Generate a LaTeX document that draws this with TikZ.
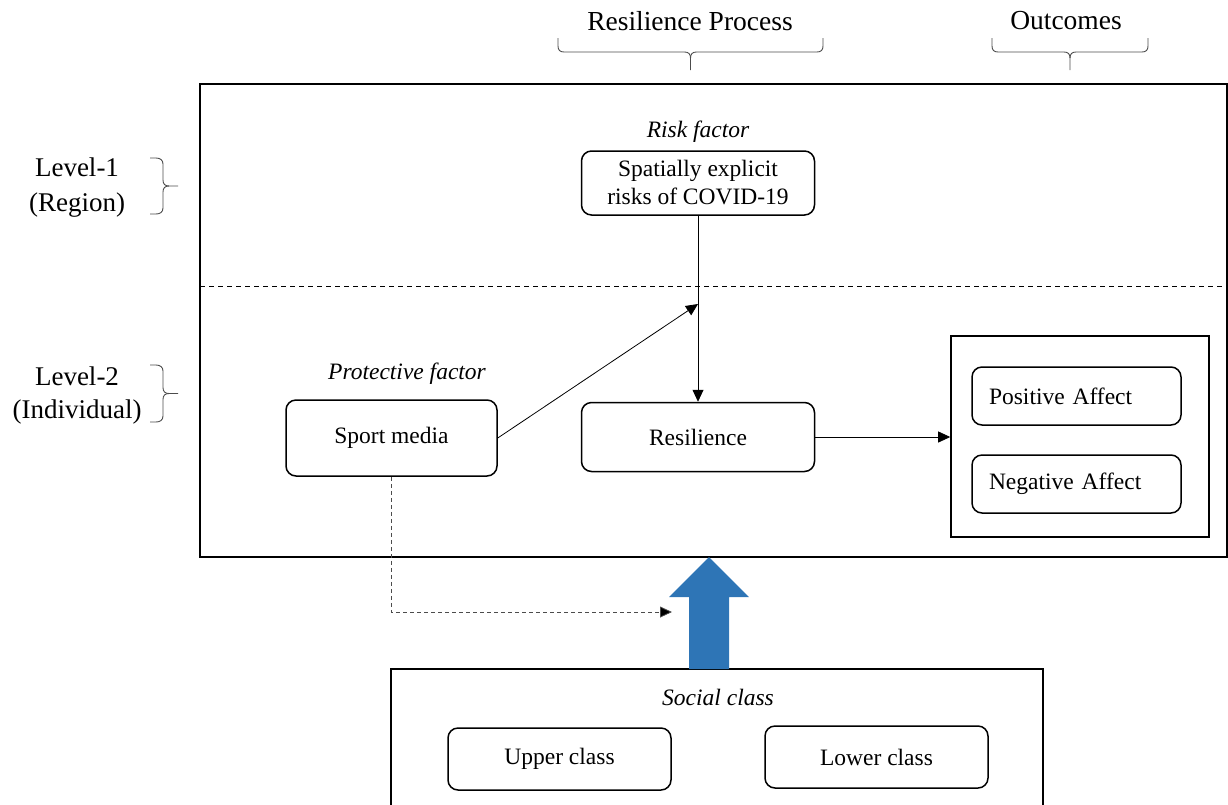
\documentclass[tikz,border=0pt]{standalone}
\usepackage{fontspec}
\setmainfont{Liberation Serif}
\usetikzlibrary{positioning,arrows.meta}
\definecolor{arrowblue}{RGB}{46,117,182}

% brace opening downwards: left x, right x, y of the ends
\newcommand{\topbrace}[3]{%
	\draw[curly] (#1,#3) -- (#1,#3+8) .. controls (#1,#3+12) and (#1+2,#3+14) .. (#1+6,#3+14)
		-- ({(#1+#2)/2-6},#3+14) .. controls ({(#1+#2)/2-2},#3+14) and ({(#1+#2)/2},#3+16) .. ({(#1+#2)/2},#3+20)
		-- ({(#1+#2)/2},#3+32);
	\draw[curly] (#2,#3) -- (#2,#3+8) .. controls (#2,#3+12) and (#2-2,#3+14) .. (#2-6,#3+14)
		-- ({(#1+#2)/2+6},#3+14) .. controls ({(#1+#2)/2+2},#3+14) and ({(#1+#2)/2},#3+16) .. ({(#1+#2)/2},#3+20);}
% brace opening to the right: x of the ends, top y, bottom y
\newcommand{\sidebrace}[3]{%
	\draw[curly] (#1,#2) -- (#1+6,#2) .. controls (#1+10,#2) and (#1+13,#2+2) .. (#1+13,#2+6)
		-- (#1+13,{(#2+#3)/2-6}) .. controls (#1+13,{(#2+#3)/2-2}) and (#1+15,{(#2+#3)/2}) .. (#1+19,{(#2+#3)/2})
		-- (#1+28,{(#2+#3)/2});
	\draw[curly] (#1,#3) -- (#1+6,#3) .. controls (#1+10,#3) and (#1+13,#3-2) .. (#1+13,#3-6)
		-- (#1+13,{(#2+#3)/2+6}) .. controls (#1+13,{(#2+#3)/2+2}) and (#1+15,{(#2+#3)/2}) .. (#1+19,{(#2+#3)/2});}

\begin{document}
\begin{tikzpicture}[x=1pt, y=-1pt,
			roundbox/.style={draw=black, rounded corners=10pt, line width=1.5pt, align=center, font=\fontsize{23.5}{28}\selectfont},
			framebox/.style={draw=black, line width=1.6pt},
			tag/.style={font=\fontsize{23.5}{28}\selectfont\itshape},
			head/.style={font=\fontsize{27.5}{32}\selectfont},
			lvl/.style={align=center},
			arr/.style={-{Triangle[length=12pt,width=11pt]}, line width=0.8pt},
			curly/.style={draw=black!70, line width=0.9pt},
		]
			\useasboundingbox (0,0) rectangle (1228,804);

			%Frames
			\draw[framebox] (200,84) rectangle (1227,557);
			\draw[dash pattern=on 5pt off 4pt, line width=0.8pt] (200,286) -- (1227,286);
			\node[framebox, minimum width=258pt, minimum height=201pt] (outcomes) at (1080,436.5) {};
			\node[framebox, minimum width=652pt, minimum height=142pt] (social) at (717,740) {};

			%Nodes
			\node[roundbox, minimum width=233pt, minimum height=64pt] (risk) at (698,183) {Spatially explicit\\risks of COVID-19};
			\node[roundbox, minimum width=233pt, minimum height=69pt] (resil) at (698,437) {Resilience};
			\node[roundbox, minimum width=211pt, minimum height=76pt] (sport) at (391.5,438) {Sport media};
			\node[roundbox, minimum width=209pt, minimum height=58pt, text width=175pt, inner xsep=17pt, align=left] (pos) at (1076.5,396) {Positive Affect};
			\node[roundbox, minimum width=209pt, minimum height=58pt, text width=175pt, inner xsep=17pt, align=left] (neg) at (1076.5,484) {Negative Affect};
			\node[roundbox, minimum width=223pt, minimum height=62pt] (upper) at (559.5,759) {Upper class};
			\node[roundbox, minimum width=223pt, minimum height=62pt] (lower) at (876.5,757) {Lower class};

			%Labels
			\node[tag] (risktag) at (698,132) {Risk factor};
			\node[tag] (prottag) at (407,374) {Protective factor};
			\node[tag] (socialtag) at (718,697) {Social class};
			\node[head] (process) at (690,21) {Resilience Process};
			\node[head] (outhead) at (1066,21) {Outcomes};
			\node[lvl, font=\fontsize{27}{35}\selectfont] (lvlone) at (77,188) {Level-1\\(Region)};
			\node[lvl, font=\fontsize{27}{33}\selectfont] (lvltwo) at (77,395) {Level-2\\(Individual)};

			%Braces
			\topbrace{558}{823}{38}
			\topbrace{992}{1148}{38}
			\sidebrace{150}{158}{214}
			\sidebrace{150}{365}{422}

			%Lines
			\coordinate (meet) at (698,304);
			\coordinate (dashend) at (672,612);
			\draw[arr] (risk.south) -- (resil.north);
			\draw[arr] (sport.east) -- (meet);
			\draw[arr] (resil.east) -- (resil.east -| outcomes.west);
			\draw[arr, black!70, dash pattern=on 4pt off 3pt, -{Triangle[length=12pt,width=11pt,fill=black]}] (sport.south) |- (dashend);

			%Big arrow
			\fill[arrowblue] (689,669) -- (689,597) -- (669,597) -- (709,557) -- (749,597) -- (729,597) -- (729,669) -- cycle;

		\end{tikzpicture}
\end{document}
